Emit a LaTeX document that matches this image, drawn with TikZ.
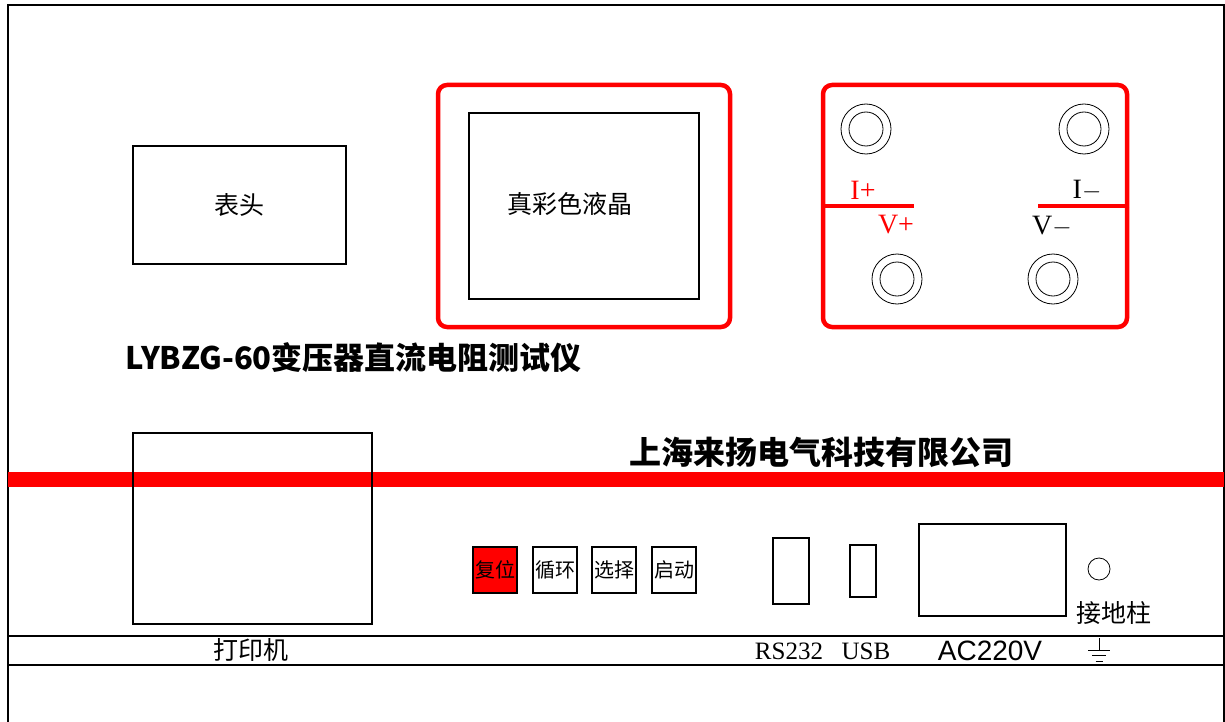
\documentclass[tikz,border=0pt]{standalone}
\usepackage{fontspec}
\setmainfont{Liberation Serif}
\newfontfamily\cjk{Noto Sans CJK SC}
\newfontfamily\latsans{Liberation Sans}

\begin{document}
\begin{tikzpicture}[x=1pt,y=-1pt,
  box/.style={draw,line width=1.2pt,inner sep=0pt},
  panel/.style={draw=red,line width=4.5pt,rounded corners=9pt,inner sep=0pt},
  jack/.style={circle,draw,line width=0.8pt,minimum size=50pt,inner sep=0pt},
  key/.style={draw,line width=1.2pt,minimum width=44pt,minimum height=46pt,inner sep=0pt,font={\cjk\fontsize{20}{21}\selectfont}},
  lbl/.style={font={\cjk\fontsize{25}{27}\selectfont}},
  pin/.style={font={\fontsize{28}{30}\selectfont}},
  port/.style={font={\fontsize{25}{27}\selectfont}}]
\useasboundingbox (0,0) rectangle (1225,722);

\draw[line width=1.2pt] (8,722) -- (8,5) -- (1224,5) -- (1224,722);

\node[box,minimum width=213pt,minimum height=118pt,lbl] (meter) at (239.5,205) {表头};

\node[panel,minimum width=292pt,minimum height=242pt] (lcdframe) at (584,206) {};
\node[box,minimum width=230pt,minimum height=186pt] (lcd) at (584,206) {};
\node[lbl] (lcdtext) at (570,204) {真彩色液晶};

\node[panel,minimum width=304pt,minimum height=242pt] (term) at (975,206) {};
\draw[red,line width=4pt] (term.west) -- ++(93,0);
\draw[red,line width=4pt] (term.east) -- ++(-91,0);
\foreach \n/\x/\y in {ip/866/129,im/1084/129,vp/897/279,vm/1053/279}{
  \node[jack] (\n) at (\x,\y) {};
  \draw[line width=0.8pt] (\n) circle (17);
}
\node[pin,red] (iplbl) at (863,190) {I+};
\node[pin,red] (vplbl) at (896,225) {V+};
\node[pin] (imlbl) at (1087,190) {I$-$};
\node[pin] (vmlbl) at (1052,226) {V$-$};

\node[anchor=west,font={\cjk\bfseries\fontsize{31}{33}\selectfont}] (title) at (122,358) {LYBZG-60变压器直流电阻测试仪};
\node[anchor=west,font={\cjk\bfseries\fontsize{32}{34}\selectfont}] (maker) at (626,452) {上海来扬电气科技有限公司};

\fill[red] (8,472) rectangle (1224,487);
\draw[line width=1.2pt] (8,636) -- (1224,636) (8,665) -- (1224,665);

\node[box,minimum width=239pt,minimum height=191pt] (printer) at (252.5,528.5) {};
\node[lbl] (printerlbl) at (251,650) {打印机};

\node[key,fill=red] (reset) at (495,570) {复位};
\node[key] (cycle) at (555,570) {循环};
\node[key] (select) at (614,570) {选择};
\node[key] (start) at (674,570) {启动};

\node[box,minimum width=36pt,minimum height=66pt] (rs) at (791,571) {};
\node[box,minimum width=26pt,minimum height=52pt] (usb) at (863,571) {};
\node[box,minimum width=147pt,minimum height=92pt] (ac) at (992.5,570) {};
\node[circle,draw,line width=0.8pt,minimum size=22pt,inner sep=0pt] (post) at (1099,569) {};
\node[lbl] (postlbl) at (1114,613) {接地柱};

\node[port] (rslbl) at (789,651) {RS232};
\node[port] (usblbl) at (866,651) {USB};
\node[font={\latsans\fontsize{28}{30}\selectfont}] (aclbl) at (990,651) {AC220V};
\coordinate (gnd) at (1099,650);
\draw[line width=1pt] (gnd) -- ++(0,-12)
  (gnd) ++(-11,0) -- ++(22,0)
  (gnd) ++(-7,5) -- ++(14,0)
  (gnd) ++(-3.5,11) -- ++(7,0);
\end{tikzpicture}
\end{document}
